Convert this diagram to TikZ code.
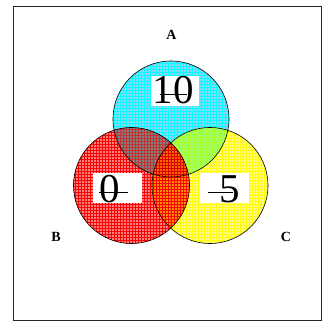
\documentclass[tikz,border=0pt]{standalone}
\usepackage{fontspec}
\setmainfont{Liberation Serif}
\usetikzlibrary{patterns}
\begin{document}
\begin{tikzpicture}[x=1pt,y=-1pt,
  lbl/.style={font=\fontsize{14}{14}\selectfont\bfseries},
  numtext/.style={inner sep=0pt,anchor=base,font=\fontsize{41}{41}\selectfont},
  strike/.style={line width=0.5pt}]
\useasboundingbox (0,0) rectangle (322,321);
\draw[line width=1pt,black!85] (13.5,6.5) rectangle (321.5,320.5);
\def\rr{58}
\coordinate (cA) at (171,119);
\coordinate (cB) at (131.5,185.5);
\coordinate (cC) at (210,185.5);
% single regions
\fill[cyan!45] (cA) circle (\rr);
\fill[pattern=grid,pattern color=cyan] (cA) circle (\rr);
\fill[red!50] (cB) circle (\rr);
\fill[pattern=grid,pattern color=red] (cB) circle (\rr);
\fill[yellow!45] (cC) circle (\rr);
\fill[pattern=grid,pattern color=yellow] (cC) circle (\rr);
% A and B
\begin{scope}
\clip (cA) circle (\rr);
\fill[black!50] (cB) circle (\rr);
\fill[pattern=grid,pattern color=red!70!black!80] (cB) circle (\rr);
\end{scope}
% A and C
\begin{scope}
\clip (cA) circle (\rr);
\fill[green!35!yellow!85] (cC) circle (\rr);
\fill[pattern=grid,pattern color=cyan!40!yellow] (cC) circle (\rr);
\end{scope}
% B and C
\begin{scope}
\clip (cB) circle (\rr);
\fill[orange!90!yellow] (cC) circle (\rr);
\fill[pattern=grid,pattern color=red] (cC) circle (\rr);
\end{scope}
% A, B and C
\begin{scope}
\clip (cA) circle (\rr);
\clip (cB) circle (\rr);
\fill[orange!80!red] (cC) circle (\rr);
\fill[pattern=grid,pattern color=red!85!black] (cC) circle (\rr);
\end{scope}
% outlines
\draw[line width=0.6pt] (cA) circle (\rr);
\draw[line width=0.6pt] (cB) circle (\rr);
\draw[line width=0.6pt] (cC) circle (\rr);
% number boxes
\fill[white] (151,76) rectangle (199,106);
\fill[white] (93,173) rectangle (142,203);
\fill[white] (200,173) rectangle (249,203);
\node[numtext] (n10) at (173,103.5) {10};
\node[numtext] (n0) at (110,202.5) {0};
\node[numtext] (n5) at (230,202.5) {5};
\draw[strike] (160,94.5) -- (187,94.5);
\draw[strike] (99,192.5) -- (128,192.5);
\draw[strike] (208,192.5) -- (233,192.5);
% labels
\node[lbl] (la) at (171.5,35) {A};
\node[lbl] (lb) at (56,237) {B};
\node[lbl] (lc) at (286,237) {C};
\end{tikzpicture}
\end{document}
